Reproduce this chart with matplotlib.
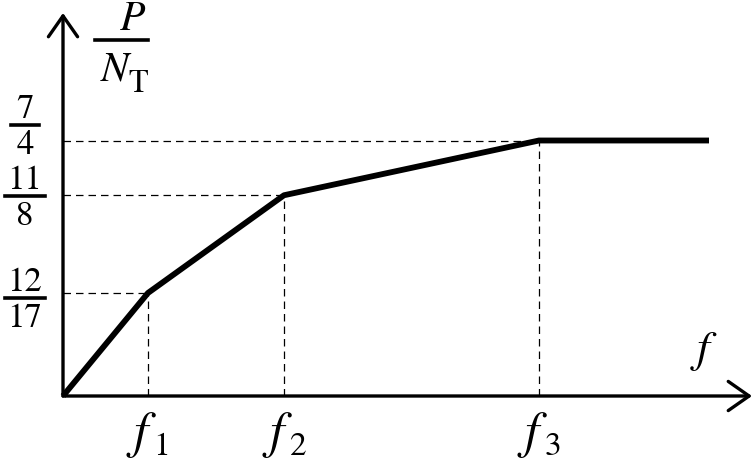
import matplotlib
matplotlib.use("Agg")
import matplotlib.pyplot as plt
from matplotlib.lines import Line2D

# Data: breakpoints of the curve P/N_T versus f (f values in arbitrary units)
f_points = [0.0, 1.0, 2.6, 5.6, 7.6]
p_points = [0.0, 12 / 17, 11 / 8, 7 / 4, 7 / 4]
x_tick_subs = ["1", "2", "3"]
y_tick_nums = ["12", "11", "7"]
y_tick_dens = ["17", "8", "4"]

plt.rcParams["font.family"] = ["STIXGeneral", "Liberation Serif", "DejaVu Serif"]

W, H = 755, 462
fig = plt.figure(figsize=(W / 100, H / 100), dpi=100)
sx, sy = 85.0, 146.0  # px per data unit
ax = fig.add_axes([63 / W, 66 / H, 689 / W, 383 / H])
xmax, ymax = 689 / sx, 383 / sy
ax.set_xlim(0, xmax)
ax.set_ylim(0, ymax)
ax.axis("off")

def px2x(px):
    return (px - 63) / sx

def py2y(py):
    return (396 - py) / sy

def dx(px):
    return px / sx

# axes with arrows
arrow = dict(arrowstyle="->,head_length=1.0,head_width=0.7", lw=2.4,
             color="black", mutation_scale=15, shrinkA=0, shrinkB=0)
ax.annotate("", xy=(xmax, 0), xytext=(0, 0), arrowprops=arrow,
            annotation_clip=False)
ax.annotate("", xy=(0, ymax), xytext=(0, 0), arrowprops=arrow,
            annotation_clip=False)

# dashed guide lines
for fx, py in zip(f_points[1:4], p_points[1:4]):
    ax.plot([0, fx], [py, py], ls=(0, (6, 4)), lw=0.9, color="black")
    ax.plot([fx, fx], [0, py], ls=(0, (6, 4)), lw=0.9, color="black")

# main curve
ax.plot(f_points, p_points, color="black", lw=4.2, solid_capstyle="butt",
        solid_joinstyle="round", clip_on=False)

# x tick labels: italic f with roman subscript
for fx, sub in zip(f_points[1:4], x_tick_subs):
    ax.text(fx - dx(7), py2y(447), "f", fontsize=37, fontstyle="italic",
            ha="center", va="baseline", clip_on=False)
    ax.text(fx + dx(14), py2y(455), sub, fontsize=24, ha="center",
            va="baseline", clip_on=False)

# y tick labels as stacked fractions
bar_pos = [298, 196, 125]
for num, den, by in zip(y_tick_nums, y_tick_dens, bar_pos):
    cx = px2x(25)
    ax.text(cx, py2y(by - 7), num, fontsize=25, ha="center", va="baseline",
            clip_on=False)
    ax.text(cx, py2y(by + 29), den, fontsize=25, ha="center", va="baseline",
            clip_on=False)
    half = 20 / sx if len(num) > 1 or len(den) > 1 else 14 / sx
    ax.add_line(Line2D([cx - half, cx + half], [py2y(by), py2y(by)],
                       lw=2.6, color="black", clip_on=False))

# y axis label P / N_T
ax.text(px2x(133), py2y(30), "P", fontsize=30, fontstyle="italic",
        ha="center", va="baseline", clip_on=False)
ax.add_line(Line2D([px2x(95), px2x(148)], [py2y(40), py2y(40)], lw=2.6,
                   color="black", clip_on=False))
ax.text(px2x(115), py2y(80), "N", fontsize=30, fontstyle="italic",
        ha="center", va="baseline", clip_on=False)
ax.text(px2x(138), py2y(92), "T", fontsize=23, ha="center", va="baseline",
        clip_on=False)

# x axis label f
ax.text(px2x(703), py2y(362), "f", fontsize=33, fontstyle="italic",
        ha="center", va="baseline", clip_on=False)

fig.savefig("out.png", dpi=100, facecolor="white")
